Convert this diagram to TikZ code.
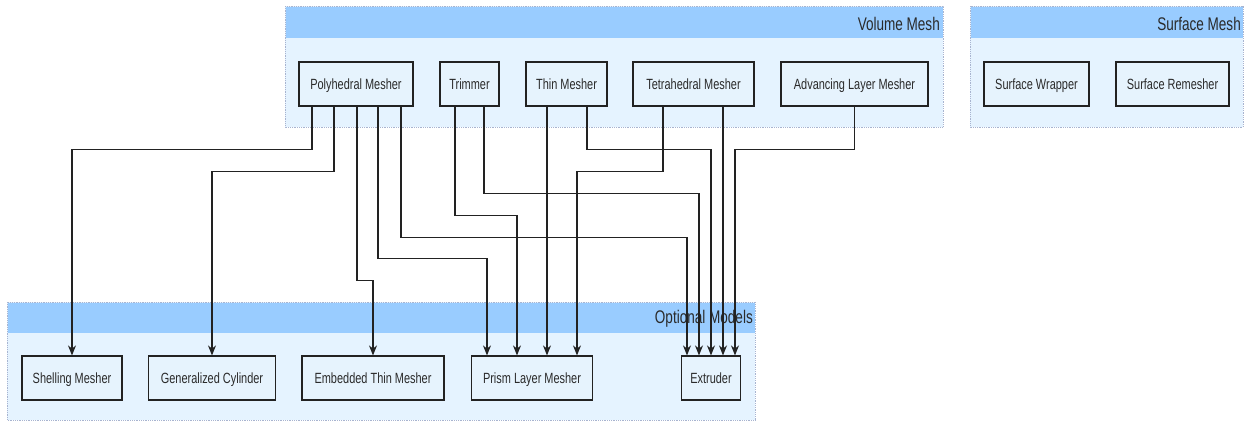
\documentclass[tikz,border=0pt]{standalone}
\usepackage{fontspec}
\setmainfont{Liberation Sans}[FakeStretch=0.74]
\usetikzlibrary{arrows.meta}
\definecolor{hdr}{HTML}{99CCFF}
\definecolor{body}{HTML}{E5F3FF}
\definecolor{nfill}{HTML}{E6F3FD}
\definecolor{gborder}{HTML}{A8B4D0}
\definecolor{txt}{HTML}{2A2A2A}
\definecolor{ln}{HTML}{222222}
\tikzset{
  grp/.style={fill=body, draw=gborder, densely dotted, line width=0.8pt},
  hdrbar/.style={fill=hdr, draw=none},
  hdrtext/.style={anchor=east, inner sep=0pt, text=txt, font=\fontsize{18.3}{18}\selectfont},
  box/.style={draw=ln, fill=nfill, line width=1.2pt, minimum height=44pt, inner sep=0pt, text=txt, text height=13.5pt, text depth=3pt, font=\fontsize{14.8}{15}\selectfont},
  conn/.style={draw=ln, line width=1.2pt, -{Stealth[length=10pt,width=8pt]}}
}
\begin{document}
\begin{tikzpicture}[x=1pt,y=-1pt]
\useasboundingbox (0,0) rectangle (1252,421);
% groups
\path[grp] (285,6) rectangle (943,127);
\path[hdrbar] (285.5,6.5) rectangle (942.5,38);
\path[grp] (970,6) rectangle (1243,127);
\path[hdrbar] (970.5,6.5) rectangle (1242.5,38);
\path[grp] (7,302) rectangle (755,420);
\path[hdrbar] (7.5,302.5) rectangle (754.5,333);
\node[hdrtext] (vmt) at (940,24) {Volume Mesh};
\node[hdrtext] (smt) at (1241,24) {Surface Mesh};
\node[hdrtext] (omt) at (753,319) {Optional Models};
% top nodes
\node[box, minimum width=114pt] (poly) at (356,84) {Polyhedral Mesher};
\node[box, minimum width=59pt] (trim) at (469.5,84) {Trimmer};
\node[box, minimum width=81pt] (thin) at (566.5,84) {Thin Mesher};
\node[box, minimum width=121pt] (tet) at (693.5,84) {Tetrahedral Mesher};
\node[box, minimum width=147pt] (adv) at (854.5,84) {Advancing Layer Mesher};
\node[box, minimum width=105pt] (sw) at (1036.5,84) {Surface Wrapper};
\node[box, minimum width=113pt] (sr) at (1172.5,84) {Surface Remesher};
% bottom nodes
\node[box, minimum width=100pt] (shell) at (72,378) {Shelling Mesher};
\node[box, minimum width=127pt] (gen) at (212,378) {Generalized Cylinder};
\node[box, minimum width=142pt] (emb) at (373,378) {Embedded Thin Mesher};
\node[box, minimum width=121pt] (prism) at (532,378) {Prism Layer Mesher};
\node[box, minimum width=59pt] (ext) at (711,378) {Extruder};
% connectors
\draw[conn] ([xshift=-44pt]poly.south) -- ++(0,43) -| (shell.north);
\draw[conn] ([xshift=-22pt]poly.south) -- ++(0,65) -| (gen.north);
\draw[conn] ([xshift=1pt]poly.south) -- ++(0,174) -| (emb.north);
\draw[conn] ([xshift=22pt]poly.south) -- ++(0,152) -| ([xshift=-45pt]prism.north);
\draw[conn] ([xshift=45pt]poly.south) -- ++(0,131) -| ([xshift=-24pt]ext.north);
\draw[conn] ([xshift=-14.5pt]trim.south) -- ++(0,109) -| ([xshift=-15pt]prism.north);
\draw[conn] ([xshift=14.5pt]trim.south) -- ++(0,87) -| ([xshift=-12pt]ext.north);
\draw[conn] ([xshift=-19.5pt]thin.south) -- ([xshift=15pt]prism.north);
\draw[conn] ([xshift=20.5pt]thin.south) -- ++(0,43) -| (ext.north);
\draw[conn] ([xshift=-30.5pt]tet.south) -- ++(0,65) -| ([xshift=45pt]prism.north);
\draw[conn] ([xshift=29.5pt]tet.south) -- ([xshift=12pt]ext.north);
\draw[conn] (adv.south) -- ++(0,43) -| ([xshift=24pt]ext.north);
\end{tikzpicture}
\end{document}
